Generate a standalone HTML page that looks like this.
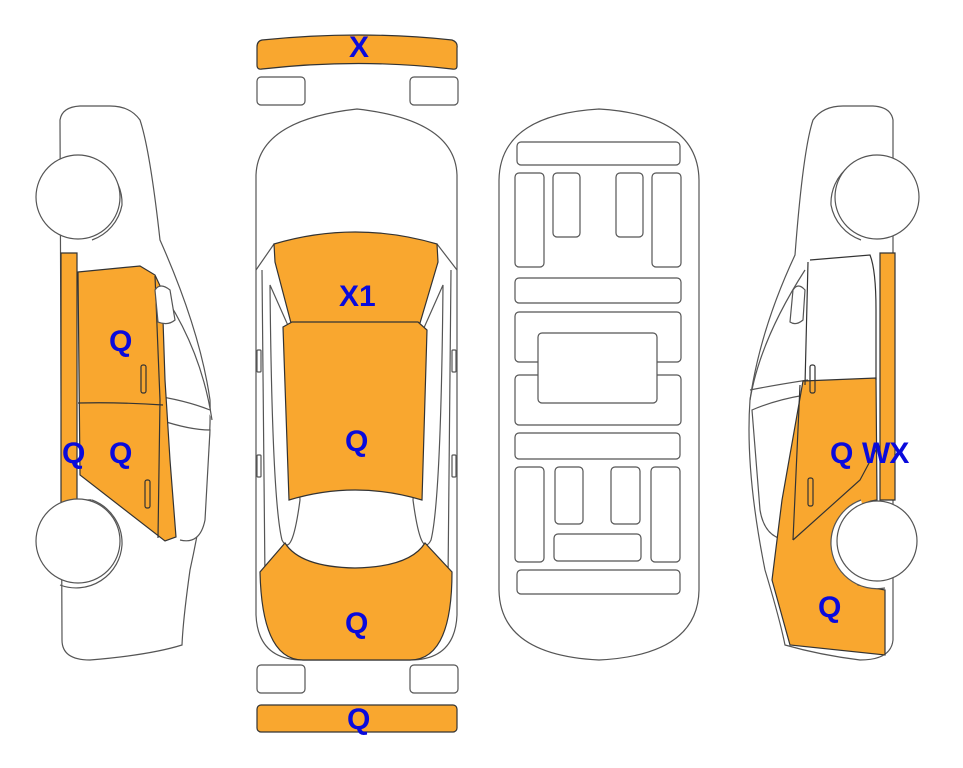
<!DOCTYPE html>
<html><head><meta charset="utf-8"><style>
html,body{margin:0;padding:0;background:#fff;width:963px;height:768px;overflow:hidden}
svg{display:block}
text{font-family:"Liberation Sans",Arial,sans-serif;font-weight:bold;fill:#0a0adc;font-size:30px}
</style></head><body>
<svg width="963" height="768" viewBox="0 0 963 768" xmlns="http://www.w3.org/2000/svg">
<g fill="#fff" stroke="#555" stroke-width="1.2">
<path d="M262 40 Q360 30 452 40 Q458 42 457 48 L457 66 Q457 70 452 69 Q360 58 262 69 Q257 70 257 65 L257 47 Q257 41 262 40Z" fill="#f9a72f" stroke="#333"/>
<rect x="257" y="77" width="48" height="28" rx="4"/>
<rect x="410" y="77" width="48" height="28" rx="4"/>
<rect x="257" y="665" width="48" height="28" rx="4"/>
<rect x="410" y="665" width="48" height="28" rx="4"/>
<rect x="257" y="705" width="200" height="27" rx="4" fill="#f9a72f" stroke="#333"/>

<path d="M256 175 Q258 120 357 109 Q455 120 457 175 L457 615 Q455 660 410 660 L303 660 Q258 660 256 615Z"/>
<path d="M256 270 L274 244 M457 270 L437 244" />
<path d="M262 270 L265 580 M451 270 L448 580"/>
<path d="M270 285 Q272 500 282 540 Q292 560 300 500 L290 330 Z" fill="none"/>
<path d="M443 285 Q441 500 431 540 Q421 560 413 500 L423 330 Z" fill="none"/>
<rect x="257" y="350" width="4" height="22" rx="1"/>
<rect x="452" y="350" width="4" height="22" rx="1"/>
<rect x="257" y="455" width="4" height="22" rx="1"/>
<rect x="452" y="455" width="4" height="22" rx="1"/>
<path d="M274 244 Q355 220 437 244 L438 262 L420 323 L291 323 L275 262Z" fill="#f9a72f" stroke="#333"/>
<path d="M283 327 L292 322 L418 322 L427 330 L422 500 Q355 480 289 500Z" fill="#f9a72f" stroke="#333"/>
<path d="M285 543 Q300 567 355 568 Q410 567 425 543 L452 572 Q452 660 410 660 L303 660 Q262 660 260 572Z" fill="#f9a72f" stroke="#333"/>

<path d="M499 180 Q500 115 599 109 Q698 115 699 180 L699 590 Q698 655 599 660 Q500 655 499 590Z"/>
<rect x="517" y="142" width="163" height="23" rx="4"/>
<rect x="515" y="173" width="29" height="94" rx="4"/>
<rect x="553" y="173" width="27" height="64" rx="4"/>
<rect x="616" y="173" width="27" height="64" rx="4"/>
<rect x="652" y="173" width="29" height="94" rx="4"/>
<rect x="515" y="278" width="166" height="25" rx="4"/>
<rect x="515" y="312" width="166" height="50" rx="4"/>
<rect x="515" y="375" width="166" height="50" rx="4"/>
<rect x="538" y="333" width="119" height="70" rx="4"/>
<rect x="515" y="433" width="165" height="26" rx="4"/>
<rect x="515" y="467" width="29" height="95" rx="4"/>
<rect x="555" y="467" width="28" height="57" rx="4"/>
<rect x="611" y="467" width="29" height="57" rx="4"/>
<rect x="651" y="467" width="29" height="95" rx="4"/>
<rect x="554" y="534" width="87" height="27" rx="4"/>
<rect x="517" y="570" width="163" height="24" rx="4"/>

<path d="M60 120 Q62 107 80 106 L110 106 Q130 106 140 120 Q150 150 160 240 Q200 330 210 400 Q212 470 190 570 Q183 620 182 645 Q150 655 90 660 Q62 660 62 640 Z"/>
<path d="M150 275 Q200 340 212 420 M150 395 Q185 400 210 410 M160 420 Q190 430 210 430 L205 520 Q200 545 180 540"/>
<path d="M61 253 L77 253 L77 500 L91 500 L91 505 L61 505Z" fill="#f9a72f" stroke="#333"/>
<path d="M78 272 L140 266 L155 275 L162 290 L165 380 L170 460 L176 537 L165 541 L80 475Z" fill="#f9a72f" stroke="#333"/>
<path d="M78 403 Q120 402 163 405 M155 276 L160 400 L158 538" fill="none" stroke="#333"/>
<path d="M155 290 Q160 282 170 290 L175 320 Q168 326 158 322Z"/>
<rect x="141" y="365" width="5" height="28" rx="2" fill="none" stroke="#333"/>
<rect x="145" y="480" width="5" height="28" rx="2" fill="none" stroke="#333"/>
<path d="M60 160 A46 46 0 0 1 122 205 A46 46 0 0 1 92 240" fill="none"/>
<path d="M92 500 A46 46 0 0 1 122 545 A46 46 0 0 1 60 585" fill="none"/>
<circle cx="78" cy="197" r="42"/>
<circle cx="78" cy="541" r="42"/>

<path d="M893 120 Q891 107 873 106 L843 106 Q823 106 813 120 Q803 150 795 255 Q760 330 750 400 Q745 470 765 570 Q780 620 785 645 Q820 655 860 660 Q891 660 893 640 Z"/>
<path d="M805 270 Q760 340 750 400 M808 380 Q775 385 750 390 M805 395 Q775 400 752 410 L760 510 Q765 540 790 540"/>
<path d="M803 381 L876 378 L877 500 Q860 502 850 515 L840 555 L858 585 L885 590 L885 655 L790 645 L772 580 L782 500Z" fill="#f9a72f" stroke="#333"/>
<path d="M880 253 L895 253 L895 500 L880 500Z" fill="#f9a72f" stroke="#333"/>
<path d="M876 380 L876 310 Q876 270 870 255 L810 260 M808 262 L805 385 M800 385 L793 540 M876 450 L860 480 L793 540" fill="none" stroke="#333"/>
<path d="M793 290 Q798 282 805 290 L803 320 Q796 326 790 322Z"/>
<rect x="810" y="365" width="5" height="28" rx="2" fill="none" stroke="#333"/>
<rect x="808" y="478" width="5" height="28" rx="2" fill="none" stroke="#333"/>
<path d="M893 160 A46 46 0 0 0 831 205 A46 46 0 0 0 861 240" fill="none"/>
<path d="M861 500 A46 46 0 0 0 831 545 A46 46 0 0 0 885 588" fill="#fff"/>
<circle cx="877" cy="197" r="42"/>
<circle cx="877" cy="541" r="40"/>
</g>
<text x="349" y="57">X</text>
<text x="339" y="306">X1</text>
<text x="345" y="451">Q</text>
<text x="345" y="633">Q</text>
<text x="347" y="729">Q</text>
<text x="109" y="351">Q</text>
<text x="62" y="463">Q</text>
<text x="109" y="463">Q</text>
<text x="830" y="463">Q</text>
<text x="862" y="463" style="letter-spacing:-1px">WX</text>
<text x="818" y="617">Q</text>
</svg>
</body></html>
